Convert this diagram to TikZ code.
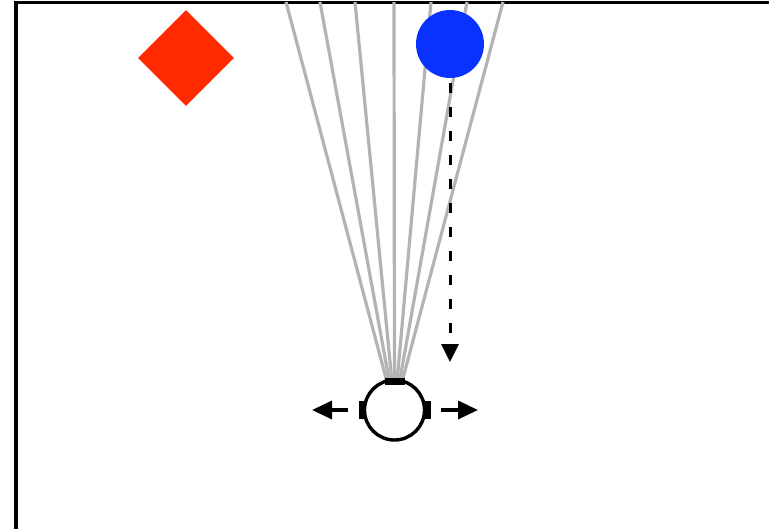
\documentclass[tikz,border=0pt]{standalone}
\usetikzlibrary{arrows.meta,shapes.geometric}
\definecolor{ray}{HTML}{B3B3B3}
\definecolor{ballblue}{HTML}{0A32FF}
\definecolor{diared}{HTML}{FF2A00}
\tikzset{
  raystyle/.style={draw=ray, line width=3.2pt},
  frame/.style={draw=black, line width=3.2pt},
  arr/.style={line width=3.4pt, -{Triangle[length=20pt,width=18pt]}},
  bar/.style={fill=black},
}
\begin{document}
\begin{tikzpicture}[x=1pt,y=-1pt]
\useasboundingbox (0,0) rectangle (769,528);
\draw[frame] (16,530) -- (16,2.3) -- (771,2.3);
% rays
\foreach \tx/\bx [count=\i] in {286/387,320/389.5,355/392,394/394.5,431/397,467/399.5,503/402}{
  \coordinate (t\i) at (\tx,2);
  \coordinate (b\i) at (\bx,382);
  \draw[raystyle] (t\i) -- (b\i);
}
\node[draw=none, fill=diared, diamond, minimum width=96pt, minimum height=96pt, inner sep=0pt] (dia) at (186,58) {};
\node[circle, fill=ballblue, minimum size=68pt, inner sep=0pt] (ball) at (450,44) {};
\coordinate (target) at (450,362);
\draw[line width=3pt, dash pattern=on 10pt off 14pt, -{Triangle[length=18pt,width=17pt]}] (ball.south) ++(0,5) -- (target);
% agent
\node[circle, draw=black, line width=3.4pt, minimum size=60pt, inner sep=0pt, fill=white] (agent) at (394.5,410) {};
\fill[bar] (385,378) rectangle (405,385);
\fill[bar] (359,401) rectangle (366,419);
\fill[bar] (424,401) rectangle (431,419);
\coordinate (ls) at (348,410);
\coordinate (le) at (312,410);
\coordinate (rs) at (441,410);
\coordinate (re) at (478,410);
\draw[arr] (ls) -- (le);
\draw[arr] (rs) -- (re);
\end{tikzpicture}
\end{document}
